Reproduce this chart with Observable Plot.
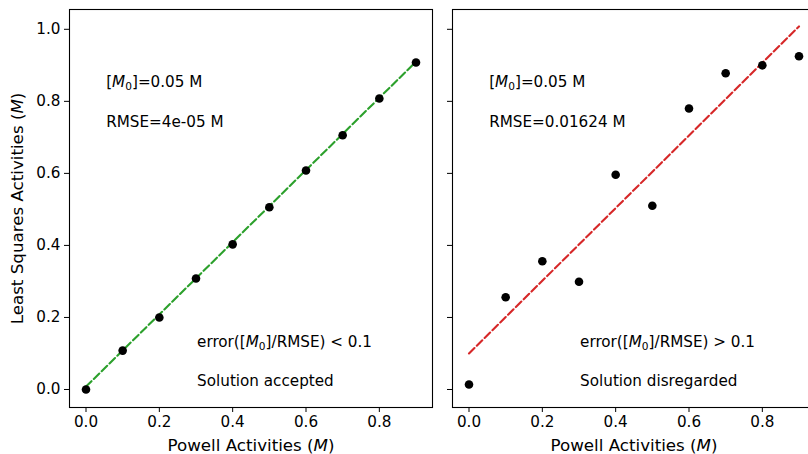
<!DOCTYPE html>
<html>
<head>
<meta charset="utf-8">
<script src="https://cdn.jsdelivr.net/npm/d3@7"></script>
<script src="https://cdn.jsdelivr.net/npm/@observablehq/plot@0.6"></script>
<style>
  html, body { margin: 0; padding: 0; background: white; overflow: hidden; width: 808px; height: 454px; }
  #wrap { position: relative; width: 808px; height: 454px; overflow: hidden; }
  .panel { position: absolute; top: 0; }
  .panel svg { max-width: none !important; }
</style>
</head>
<body>
<div id="wrap">
  <div class="panel" id="p1" style="left:0px;width:440px"></div>
  <div class="panel" id="p2" style="left:440px;width:390px"></div>
</div>
<script>
// ---- data ----
const powell = [0, 0.1, 0.2, 0.3, 0.4, 0.5, 0.6, 0.7, 0.8, 0.9];
const lsqAccepted = [0.0, 0.108, 0.2, 0.308, 0.403, 0.506, 0.608, 0.706, 0.808, 0.908];
const lsqDisregarded = [0.014, 0.256, 0.356, 0.299, 0.596, 0.51, 0.78, 0.878, 0.9, 0.925];
const fitX = [0, 0.9];
const fitAccepted = [0.008, 0.91];
const fitDisregarded = [0.1, 1.008];
const xTicks = [0, 0.2, 0.4, 0.6, 0.8];
const yTicks = [0, 0.2, 0.4, 0.6, 0.8, 1.0];
const accTexts = ["[M0]=0.05 M", "RMSE=4e-05 M", "error([M0]/RMSE) < 0.1", "Solution accepted"];
const disTexts = ["[M0]=0.05 M", "RMSE=0.01624 M", "error([M0]/RMSE) > 0.1", "Solution disregarded"];
const textX = [0.055, 0.055, 0.303, 0.303];
const textY = [0.853, 0.742, 0.131, 0.022];
const xLabel = "Powell Activities (M)";
const yLabel = "Least Squares Activities (M)";

const FONT = "DejaVu Sans";
const FS = 15.2;
const LFS = 16.7;

function panel({ys, fit, color, texts, showY, width, marginLeft, marginRight}) {
  const pts = powell.map((x, i) => ({x, y: ys[i]}));
  const line = fitX.map((x, i) => ({x, y: fit[i]}));
  const ann = texts.map((t, i) => ({t, x: textX[i], y: textY[i]}));
  const marks = [
    Plot.frame({stroke: "black", strokeWidth: 1.1}),
    Plot.axisX({ticks: xTicks, tickFormat: d3.format(".1f"), tickSize: 5, tickPadding: 4, fontSize: FS, label: null, stroke: "black"}),
    Plot.axisY({ticks: yTicks, tickFormat: showY ? d3.format(".1f") : () => "", tickSize: 5, tickPadding: 4, fontSize: FS, label: null, stroke: "black"}),
    Plot.line(line, {x: "x", y: "y", stroke: color, strokeWidth: 2.1, strokeDasharray: "7.7,3.3"}),
    Plot.dot(pts, {x: "x", y: "y", r: 4.3, fill: "black", stroke: "none"}),
    Plot.text(ann, {x: "x", y: "y", text: "t", textAnchor: "start", lineAnchor: "middle", fontSize: FS, fill: "black"}),
    Plot.text([xLabel], {frameAnchor: "bottom", dy: 38, text: d => d, textAnchor: "middle", lineAnchor: "middle", fontSize: LFS, fill: "black"})
  ];
  if (showY) {
    marks.push(Plot.text([yLabel], {frameAnchor: "left", dx: -52, rotate: -90, text: d => d, textAnchor: "middle", lineAnchor: "middle", fontSize: LFS, fill: "black"}));
  }
  return Plot.plot({
    width, height: 454, marginLeft, marginRight, marginTop: 9, marginBottom: 47,
    x: {domain: [-0.045, 0.945]},
    y: {domain: [-0.05, 1.055]},
    style: {fontFamily: FONT, fontSize: FS + "px", color: "black", background: "white", overflow: "visible", maxWidth: "none"},
    marks
  });
}

const NS = "http://www.w3.org/2000/svg";
function richify(svg) {
  svg.querySelectorAll("text").forEach(t => {
    const s = t.textContent;
    if (!s.includes("M0") && !s.includes("(M)")) return;
    const parts = s.split(/(M0|\(M\))/);
    while (t.firstChild) t.removeChild(t.firstChild);
    let pendingDy = 0;
    const add = (txt, attrs = {}) => {
      const ts = document.createElementNS(NS, "tspan");
      ts.textContent = txt;
      for (const k in attrs) ts.setAttribute(k, attrs[k]);
      if (pendingDy && !("dy" in attrs)) { ts.setAttribute("dy", pendingDy); pendingDy = 0; }
      t.appendChild(ts);
    };
    for (const p of parts) {
      if (!p) continue;
      if (p === "M0") {
        add("M", {"font-style": "italic"});
        add("0", {"font-size": (FS * 0.7).toFixed(1), dy: 2.5});
        pendingDy = -2.5;
      } else if (p === "(M)") {
        add("(");
        add("M", {"font-style": "italic"});
        add(")");
      } else {
        add(p);
      }
    }
  });
}

const p1 = panel({ys: lsqAccepted, fit: fitAccepted, color: "#2ca02c", texts: accTexts, showY: true, width: 440, marginLeft: 69, marginRight: 8});
const p2 = panel({ys: lsqDisregarded, fit: fitDisregarded, color: "#d62728", texts: disTexts, showY: false, width: 390, marginLeft: 12, marginRight: 15});
richify(p1); richify(p2);
document.getElementById("p1").appendChild(p1);
document.getElementById("p2").appendChild(p2);
</script>
</body>
</html>
